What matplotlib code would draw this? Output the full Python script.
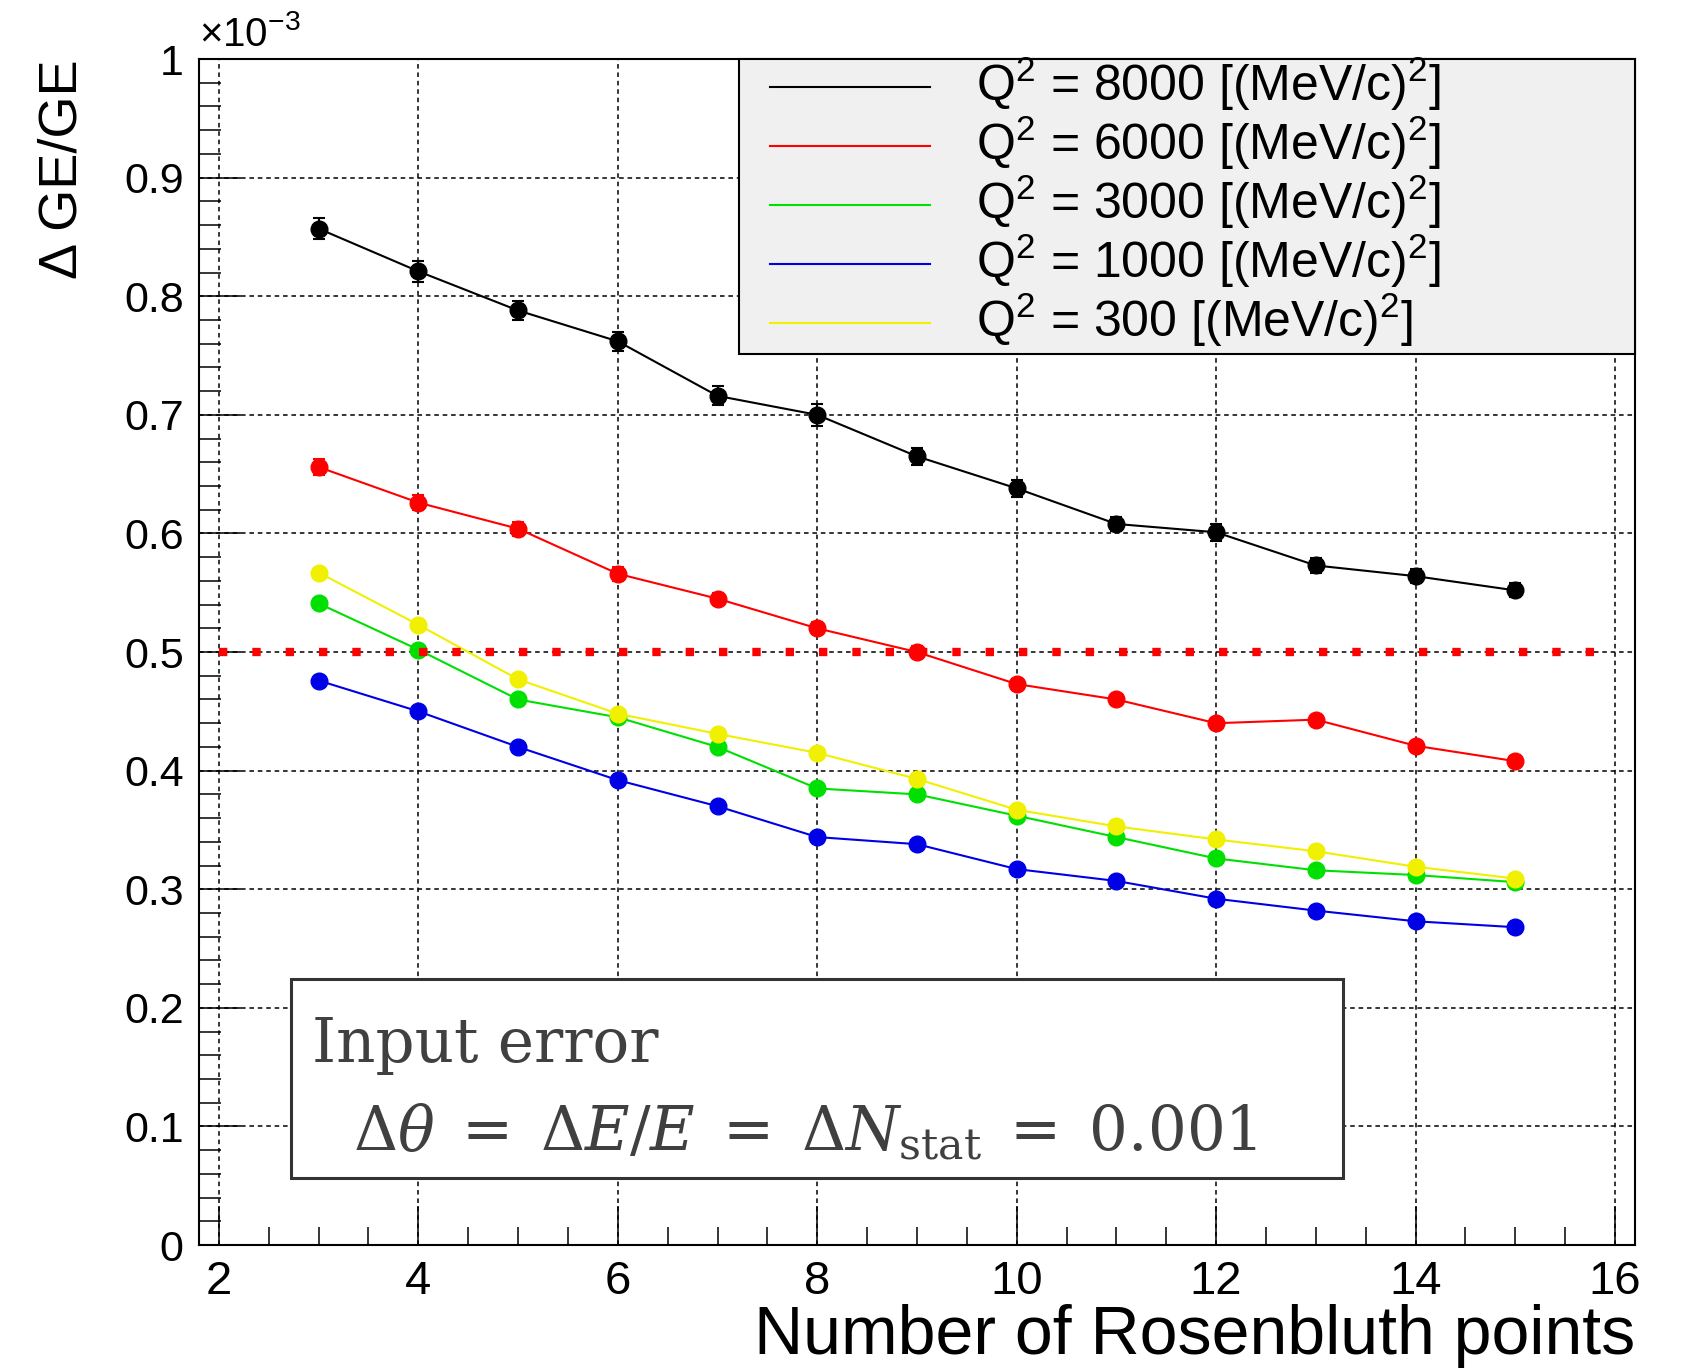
import matplotlib
matplotlib.use('Agg')
import matplotlib.pyplot as plt
from matplotlib.patches import Rectangle
from matplotlib.ticker import MultipleLocator, FuncFormatter

plt.rcParams['font.family'] = ['Liberation Sans', 'DejaVu Sans']
plt.rcParams['mathtext.fontset'] = 'custom'
plt.rcParams['mathtext.rm'] = 'Liberation Sans'
plt.rcParams['mathtext.it'] = 'Liberation Sans:italic'
plt.rcParams['mathtext.bf'] = 'Liberation Sans:bold'

# number of Rosenbluth points
n_points = [3, 4, 5, 6, 7, 8, 9, 10, 11, 12, 13, 14, 15]

# dGE/GE in units of 1e-3
q8000 = [0.857, 0.821, 0.788, 0.762, 0.716, 0.700, 0.665, 0.638, 0.608, 0.601, 0.573, 0.564, 0.552]
q6000 = [0.656, 0.626, 0.604, 0.566, 0.545, 0.520, 0.500, 0.473, 0.460, 0.440, 0.443, 0.421, 0.408]
q3000 = [0.541, 0.502, 0.460, 0.445, 0.420, 0.385, 0.380, 0.362, 0.344, 0.326, 0.316, 0.312, 0.306]
q1000 = [0.476, 0.450, 0.420, 0.392, 0.370, 0.344, 0.338, 0.317, 0.307, 0.292, 0.282, 0.273, 0.268]
q300 = [0.567, 0.523, 0.477, 0.448, 0.431, 0.415, 0.393, 0.367, 0.353, 0.342, 0.332, 0.319, 0.309]

err8000 = [0.009, 0.009, 0.008, 0.008, 0.008, 0.009, 0.007, 0.007, 0.006, 0.007, 0.006, 0.006, 0.006]
err6000 = [0.007, 0.006, 0.006, 0.006, 0.005, 0.005, 0.005, 0.004, 0.004, 0.004, 0.004, 0.004, 0.004]
err_low = [0.004, 0.004, 0.003, 0.003, 0.003, 0.003, 0.003, 0.003, 0.003, 0.003, 0.003, 0.003, 0.003]

series = [
    (q8000, err8000, 'black', 'Q$^{2}$ = 8000 [(MeV/c)$^{2}$]'),
    (q6000, err6000, 'red', 'Q$^{2}$ = 6000 [(MeV/c)$^{2}$]'),
    (q3000, err_low, '#00e000', 'Q$^{2}$ = 3000 [(MeV/c)$^{2}$]'),
    (q1000, err_low, '#0000e6', 'Q$^{2}$ = 1000 [(MeV/c)$^{2}$]'),
    (q300, err_low, '#f0f000', 'Q$^{2}$ = 300 [(MeV/c)$^{2}$]'),
]

fig = plt.figure(figsize=(16.82, 13.70), dpi=100)
ax = fig.add_axes([0.1183, 0.0912, 0.8537, 0.8657])

for vals, errs, col, lab in series:
    ax.errorbar(n_points, vals, yerr=errs, color=col, marker='o', markersize=12,
                linewidth=1.5, elinewidth=1.5, capsize=4, capthick=1.5, zorder=3)

# 0.5e-3 target line
ax.hlines(0.5, 2, 16, colors='red', linestyles=(0, (1, 3.0)), linewidth=6, zorder=4)

ax.set_xlim(1.8, 16.2)
ax.set_ylim(0, 1.0)
ax.xaxis.set_major_locator(MultipleLocator(2))
ax.xaxis.set_minor_locator(MultipleLocator(0.5))
ax.yaxis.set_major_locator(MultipleLocator(0.1))
ax.yaxis.set_minor_locator(MultipleLocator(0.02))
ax.yaxis.set_major_formatter(FuncFormatter(lambda v, p: '%g' % round(v, 3)))

ax.tick_params(which='both', direction='in', top=False, right=False, width=1.1)
ax.tick_params(axis='x', which='major', length=28, labelsize=34, pad=11)
ax.tick_params(axis='x', which='minor', length=13)
ax.tick_params(axis='y', which='major', length=30, labelsize=31, pad=11)
ax.tick_params(axis='y', which='minor', length=16)
for s in ax.spines.values():
    s.set_linewidth(1.5)

ax.set_axisbelow(True)
ax.grid(True, which='major', color='black', linestyle=(0, (3, 2.5)), linewidth=1.1)

ax.text(0.0, 1.004, r'$\times$10$^{-3}$', transform=ax.transAxes, ha='left', va='bottom', fontsize=29)
ax.text(-0.095, 1.0, 'Δ GE/GE', transform=ax.transAxes, rotation=90, ha='center', va='top', fontsize=39)
ax.text(1.0, -0.092, 'Number of Rosenbluth points', transform=ax.transAxes, ha='right',
        va='baseline', fontsize=49)

# legend box drawn by hand, ROOT style
ax.add_patch(Rectangle((0.376, 0.751), 0.624, 0.249, transform=ax.transAxes, facecolor='#f0f0f0',
                       edgecolor='black', linewidth=1.5, zorder=6, clip_on=False))
for i, (vals, errs, col, lab) in enumerate(series):
    y_line = 0.9764 - 0.04975 * i
    ax.plot([0.398, 0.509], [y_line, y_line], transform=ax.transAxes, color=col,
            linewidth=1.5, zorder=7, clip_on=False)
    ax.text(0.541, y_line - 0.0118, lab, transform=ax.transAxes, fontsize=36,
            va='baseline', ha='left', zorder=7)

# input error box
ax.add_patch(Rectangle((0.064, 0.0565), 0.733, 0.1675, transform=ax.transAxes,
                       facecolor='white', edgecolor='#333333', linewidth=2.2, zorder=5))
ax.text(0.0786, 0.154, 'Input error', transform=ax.transAxes, family='DejaVu Serif',
        fontsize=44, color='#404040', va='baseline', zorder=6)
ax.text(0.107, 0.080, r'$\Delta\theta\;=\;\Delta E/E\;=\;\Delta N_{\mathrm{stat}}\;=\;0.001$',
        transform=ax.transAxes, math_fontfamily='dejavuserif', fontsize=44, color='#404040',
        va='baseline', zorder=6)

fig.savefig('out.png', dpi=100)
